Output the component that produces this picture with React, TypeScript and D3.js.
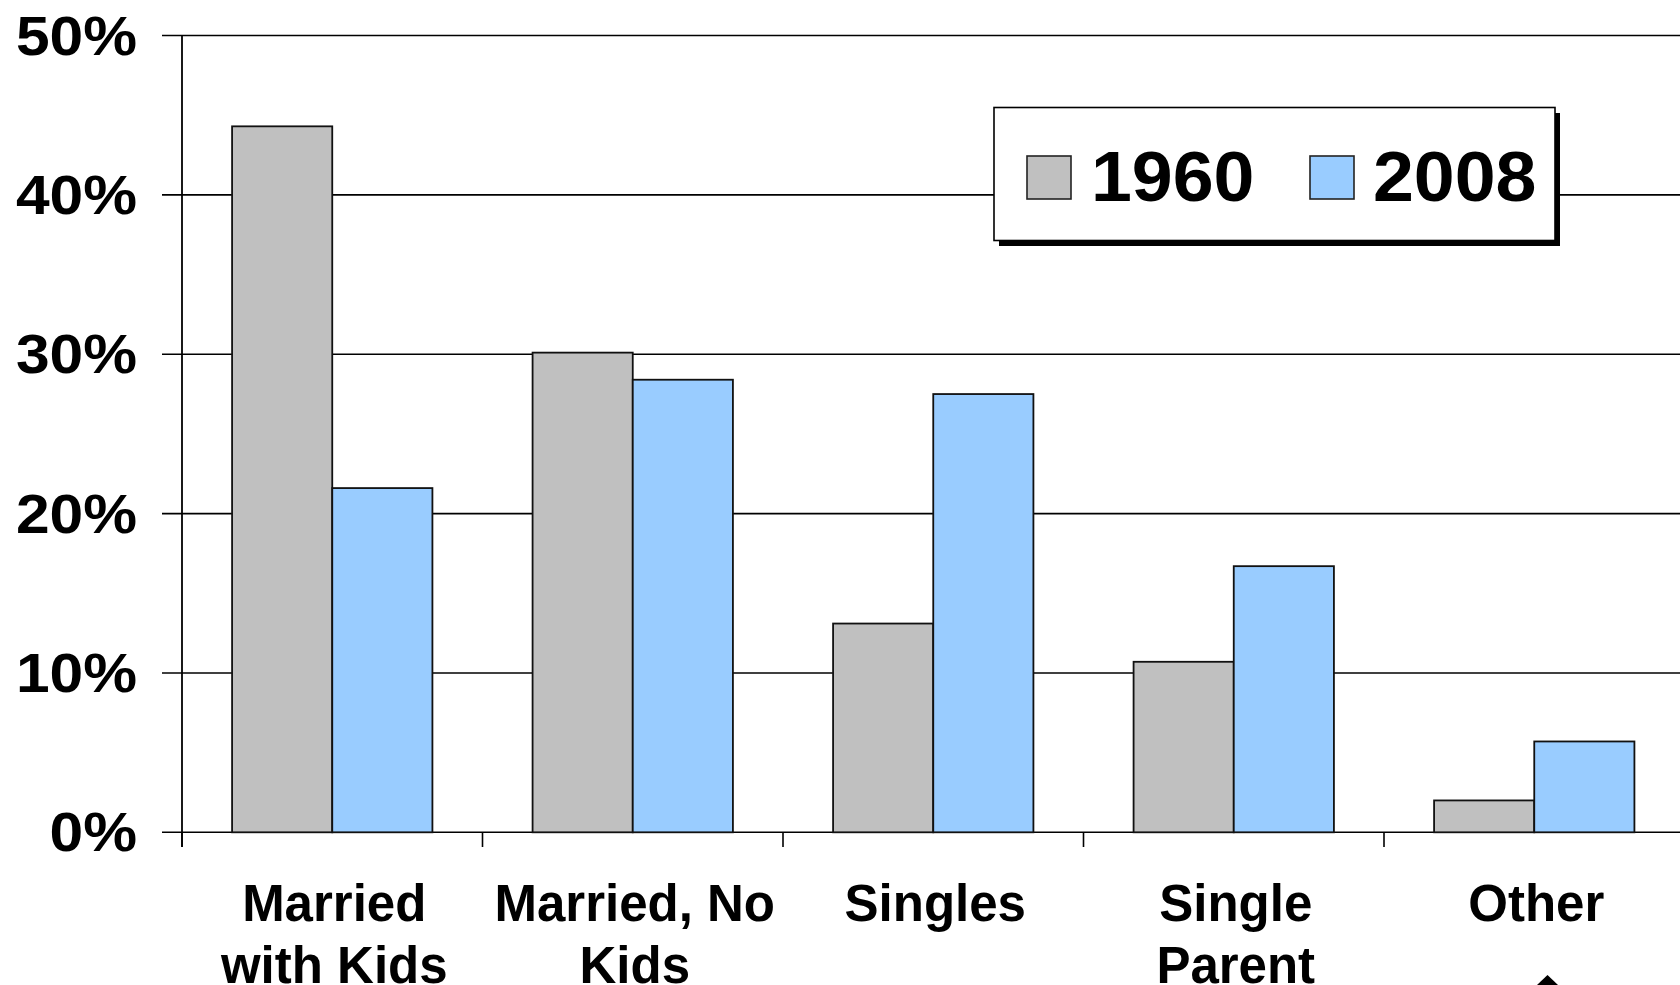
import React from "react";
import * as d3 from "d3";

const categories = ["Married with Kids", "Married, No Kids", "Singles", "Single Parent", "Other"];
const categoryLines = [["Married", "with Kids"], ["Married, No", "Kids"], ["Singles"], ["Single", "Parent"], ["Other"]];
const seriesNames = ["1960", "2008"];
const values1960 = [44.3, 30.1, 13.1, 10.7, 2.0];
const values2008 = [21.6, 28.4, 27.5, 16.7, 5.7];
const yTicks = [0, 10, 20, 30, 40, 50];
const colors = ["#C0C0C0", "#99CCFF"];

const W = 1680;
const H = 985;
const FONT = "'Liberation Sans', Arial, sans-serif";

export default function App() {
  const x0 = d3.scaleBand<string>().domain(categories).range([182, 182 + 5 * 300.5]).padding(0);
  const x1 = d3.scaleBand<string>().domain(seriesNames).range([0, x0.bandwidth()]).paddingInner(0).paddingOuter(0.5);
  const y = d3.scaleLinear().domain([0, 50]).range([832.3, 35.5]);
  const series = [values1960, values2008];

  return (
    <svg width={W} height={H} style={{ position: "fixed", left: 0, top: 0, display: "block", background: "#fff" }}>
      <rect x={0} y={0} width={W} height={H} fill="#fff" />
      {/* gridlines */}
      {yTicks.map((t) => (
        <line key={"g" + t} x1={162} x2={W} y1={y(t)} y2={y(t)} stroke="#000" strokeWidth={1.6} />
      ))}
      {/* y axis */}
      <line x1={182} x2={182} y1={y(50)} y2={847} stroke="#000" strokeWidth={1.8} />
      {/* x ticks */}
      {categories.map((c) => (
        <line key={"xt" + c} x1={x0(c)!} x2={x0(c)!} y1={y(0)} y2={847} stroke="#000" strokeWidth={1.6} />
      ))}
      {/* bars */}
      {categories.map((c, i) => (
        <g key={"b" + c}>
          {seriesNames.map((s, k) => (
            <rect
              key={s}
              x={x0(c)! + x1(s)!}
              y={y(series[k][i])}
              width={x1.bandwidth()}
              height={y(0) - y(series[k][i])}
              fill={colors[k]}
              stroke="#111"
              strokeWidth={1.8}
            />
          ))}
        </g>
      ))}
      {/* y tick labels */}
      {yTicks.map((t) => (
        <text
          key={"yl" + t}
          transform={`translate(137, ${y(t) + 19}) scale(1.1, 1)`}
          textAnchor="end"
          fontFamily={FONT}
          fontWeight="bold"
          fontSize={55}
          fill="#000"
        >
          {t + "%"}
        </text>
      ))}
      {/* category labels */}
      {categories.map((c, i) => (
        <text
          key={"cl" + c}
          x={x0(c)! + x0.bandwidth() / 2}
          y={921}
          textAnchor="middle"
          fontFamily={FONT}
          fontWeight="bold"
          fontSize={51}
          fill="#000"
        >
          {categoryLines[i].map((ln, j) => (
            <tspan key={j} x={x0(c)! + x0.bandwidth() / 2 + 2} dy={j === 0 ? 0 : 61.5}>
              {ln}
            </tspan>
          ))}
        </text>
      ))}
      {/* legend */}
      <rect x={999} y={113} width={561} height={133} fill="#000" />
      <rect x={994} y={107.5} width={561} height={133} fill="#fff" stroke="#000" strokeWidth={1.6} />
      {seriesNames.map((s, k) => {
        const sx = [1027, 1310][k];
        const tx = [1091, 1373][k];
        return (
          <g key={"lg" + s}>
            <rect x={sx} y={156} width={44} height={43} fill={colors[k]} stroke="#222" strokeWidth={1.6} />
            <text
              transform={`translate(${tx}, 201) scale(1.05, 1)`}
              fontFamily={FONT}
              fontWeight="bold"
              fontSize={70}
              fill="#000"
            >
              {s}
            </text>
          </g>
        );
      })}
      {/* arrow head fragment at bottom */}
      <polygon points="1547.5,975 1537,985 1558,985" fill="#000" />
    </svg>
  );
}
